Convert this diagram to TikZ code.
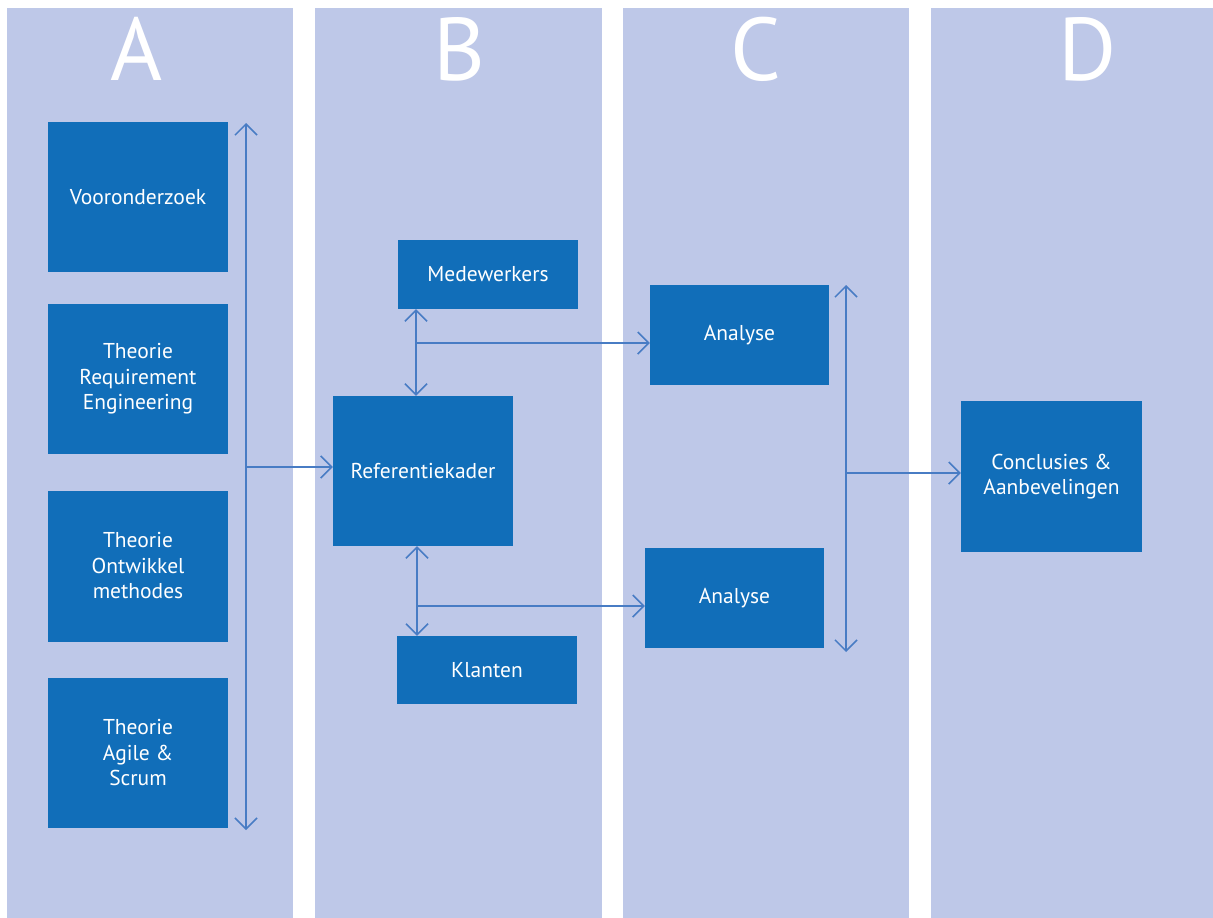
\documentclass[tikz,border=0pt]{standalone}
\usepackage{fontspec}
\setmainfont{PT Sans}
\usetikzlibrary{arrows.meta}
\definecolor{lane}{RGB}{190,200,232}
\definecolor{boxblue}{RGB}{17,110,185}
\definecolor{linkblue}{RGB}{72,124,196}
\tikzset{
  barb/.tip={Straight Barb[length=11pt,width=22pt]},
  lanebg/.style={fill=lane, draw=none},
  lanelabel/.style={text=white, font=\fontsize{89}{89}\selectfont, inner sep=0pt},
  block/.style={fill=boxblue, draw=none, text=white, align=center,
    font=\fontsize{21.5}{25.5}\selectfont, inner sep=0pt},
  link/.style={draw=linkblue, line width=1.5pt},
}
\begin{document}
\begin{tikzpicture}[x=1pt, y=-1pt]
  \useasboundingbox (0,0) rectangle (1213,918);
  \fill[white] (0,0) rectangle (1213,918);

  % four lanes
  \path[lanebg] (7,8) rectangle (293,918);
  \path[lanebg] (315,8) rectangle (602,918);
  \path[lanebg] (623,8) rectangle (909,918);
  \path[lanebg] (931,8) rectangle (1213,918);

  \node[lanelabel] (lA) at (137,49) {A};
  \node[lanelabel] (lB) at (459,49) {B};
  \node[lanelabel] (lC) at (756,49) {C};
  \node[lanelabel] (lD) at (1088,49) {D};

  % lane A
  \node[block, minimum width=180pt, minimum height=150pt] (voo) at (138,197) {Vooronderzoek};
  \node[block, minimum width=180pt, minimum height=150pt] (req) at (138,379) {Theorie\\Requirement\\Engineering};
  \node[block, minimum width=180pt, minimum height=151pt] (ont) at (138,566) {Theorie\\Ontwikkel\\methodes};
  \node[block, minimum width=180pt, minimum height=150pt] (agi) at (138,753) {Theorie\\Agile \&\\Scrum};

  % lane B
  \node[block, minimum width=180pt, minimum height=69pt] (med) at (488,274.5) {Medewerkers};
  \node[block, minimum width=180pt, minimum height=150pt] (ref) at (423,471) {Referentiekader};
  \node[block, minimum width=180pt, minimum height=68pt] (kla) at (487,670) {Klanten};

  % lane C
  \node[block, minimum width=179pt, minimum height=100pt] (an1) at (739.5,335) {Analyse};
  \node[block, minimum width=179pt, minimum height=100pt] (an2) at (734.5,598) {Analyse};

  % lane D
  \node[block, minimum width=181pt, minimum height=151pt] (con) at (1051.5,476.5) {Conclusies \&\\Aanbevelingen};

  % connectors
  \coordinate (aTop) at (246,123);
  \coordinate (aBot) at (246,830);
  \coordinate (aMid) at (246,467);
  \draw[link, barb-barb] (aTop) -- (aBot);
  \draw[link, -barb] (aMid) -- (aMid -| ref.west);

  \coordinate (bUp) at (416,343);
  \draw[link, barb-barb] (bUp |- med.south) -- (bUp |- ref.north);
  \draw[link, -barb] (bUp) -- (bUp -| an1.west);

  \coordinate (bDown) at (417,606);
  \draw[link, barb-barb] (bDown |- ref.south) -- (bDown |- kla.north);
  \draw[link, -barb] (bDown) -- (bDown -| an2.west);

  \coordinate (cTop) at (846,285);
  \coordinate (cBot) at (846,652);
  \coordinate (cMid) at (846,473);
  \draw[link, barb-barb] (cTop) -- (cBot);
  \draw[link, -barb] (cMid) -- (cMid -| con.west);
\end{tikzpicture}
\end{document}
